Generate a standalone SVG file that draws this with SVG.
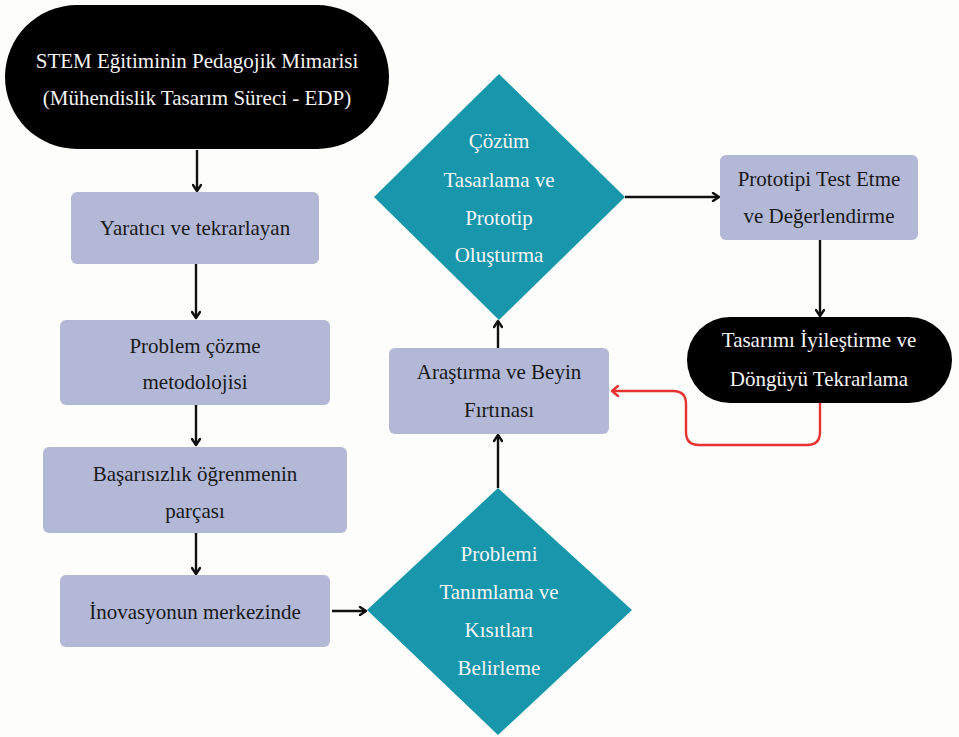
<svg xmlns="http://www.w3.org/2000/svg" width="959" height="737" viewBox="0 0 959 737">
<defs>
<marker id="ah" markerWidth="10" markerHeight="10" refX="8" refY="5" orient="auto" markerUnits="userSpaceOnUse">
<path d="M2,1 L8,5 L2,9" fill="none" stroke="#111" stroke-width="2.4" stroke-linecap="round" stroke-linejoin="round"/>
</marker>
<marker id="ahr" markerWidth="12" markerHeight="12" refX="9" refY="6" orient="auto" markerUnits="userSpaceOnUse">
<path d="M3,1 L9,6 L3,11" fill="none" stroke="#e8322f" stroke-width="2.4" stroke-linecap="round" stroke-linejoin="round"/>
</marker>
<style>
.box{fill:#b3b8d7;}
.dia{fill:#1896ab;}
.pill{fill:#000;}
.t{font-family:'Liberation Serif','Tinos','DejaVu Serif',serif;font-size:21px;text-anchor:middle;fill:#1a1a1a;}
.w{fill:#f4f4f4;}
.c{fill:none;stroke:#111;stroke-width:2.4;}
.r{fill:none;stroke:#e8322f;stroke-width:2.4;}
</style>
</defs>
<rect width="959" height="737" fill="#fdfdfb"/>
<g id="connectors">
<line class="c" x1="197" y1="150" x2="197" y2="191" marker-end="url(#ah)"/>
<line class="c" x1="196" y1="264" x2="196" y2="318" marker-end="url(#ah)"/>
<line class="c" x1="196" y1="405" x2="196" y2="445" marker-end="url(#ah)"/>
<line class="c" x1="196" y1="533" x2="196" y2="574" marker-end="url(#ah)"/>
<line class="c" x1="332" y1="611" x2="366" y2="611" marker-end="url(#ah)"/>
<line class="c" x1="498" y1="488" x2="498" y2="435" marker-end="url(#ah)"/>
<line class="c" x1="498" y1="348" x2="498" y2="321" marker-end="url(#ah)"/>
<line class="c" x1="625" y1="197" x2="719" y2="197" marker-end="url(#ah)"/>
<line class="c" x1="820" y1="240" x2="820" y2="316" marker-end="url(#ah)"/>
<path class="r" d="M820,403 L820,432 Q820,445 807,445 L699,445 Q686,445 686,432 L686,404 Q686,391 673,391 L612,391" marker-end="url(#ahr)"/>
</g>
<g id="n_title">
<rect class="pill" x="5" y="5" width="384" height="144" rx="72"/>
<text class="t w" x="197" y="68" font-size="22">STEM Eğitiminin Pedagojik Mimarisi</text>
<text class="t w" x="197" y="105" font-size="22">(Mühendislik Tasarım Süreci - EDP)</text>
</g>
<g id="n_yaratici">
<rect class="box" x="71" y="192" width="248" height="72" rx="6"/>
<text class="t" x="195" y="235">Yaratıcı ve tekrarlayan</text>
</g>
<g id="n_problem">
<rect class="box" x="60" y="320" width="270" height="85" rx="6"/>
<text class="t" x="195" y="353">Problem çözme</text>
<text class="t" x="195" y="389">metodolojisi</text>
</g>
<g id="n_basarisizlik">
<rect class="box" x="43" y="447" width="304" height="86" rx="6"/>
<text class="t" x="195" y="481">Başarısızlık öğrenmenin</text>
<text class="t" x="195" y="518">parçası</text>
</g>
<g id="n_inovasyon">
<rect class="box" x="60" y="575" width="270" height="72" rx="6"/>
<text class="t" x="195" y="619">İnovasyonun merkezinde</text>
</g>
<g id="n_tanimlama">
<polygon class="dia" points="498,488 632,610 498,735 367,610"/>
<text class="t w" x="499" y="561">Problemi</text>
<text class="t w" x="499" y="599">Tanımlama ve</text>
<text class="t w" x="499" y="637">Kısıtları</text>
<text class="t w" x="499" y="675">Belirleme</text>
</g>
<g id="n_arastirma">
<rect class="box" x="389" y="348" width="220" height="86" rx="6"/>
<text class="t" x="499" y="379">Araştırma ve Beyin</text>
<text class="t" x="499" y="417">Fırtınası</text>
</g>
<g id="n_cozum">
<polygon class="dia" points="499,74 625,197 499,320 374,197"/>
<text class="t w" x="499" y="148">Çözüm</text>
<text class="t w" x="499" y="187">Tasarlama ve</text>
<text class="t w" x="499" y="225">Prototip</text>
<text class="t w" x="499" y="262">Oluşturma</text>
</g>
<g id="n_test">
<rect class="box" x="720" y="155" width="198" height="85" rx="6"/>
<text class="t" x="819" y="186">Prototipi Test Etme</text>
<text class="t" x="819" y="223">ve Değerlendirme</text>
</g>
<g id="n_iyilestirme">
<rect class="pill" x="687" y="317" width="265" height="86" rx="43"/>
<text class="t w" x="819" y="347">Tasarımı İyileştirme ve</text>
<text class="t w" x="819" y="386">Döngüyü Tekrarlama</text>
</g>
</svg>
